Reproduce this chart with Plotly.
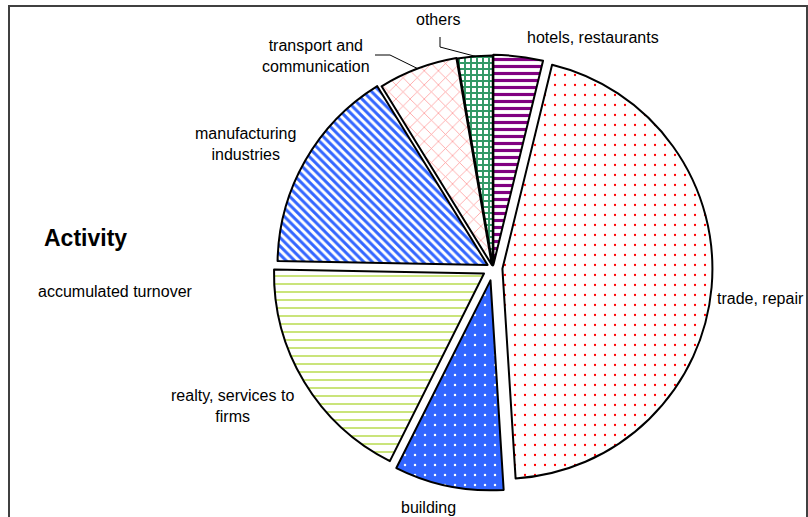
import math
import plotly.graph_objects as go

W, H = 808, 517

# ---- data ----
labels = ["hotels, restaurants", "trade, repair", "building",
          "realty, services to firms", "manufacturing industries",
          "transport and communication", "others"]
values = [3.8, 45.2, 8.4, 17.9, 15.9, 6.1, 2.7]

# ---- styles ----
pulls = [0.015, 0.045, 0.06, 0.05, 0.03, 0.015, 0.012]
pat_shape = ["-", ".", ".", "-", "\\", "x", "+"]
pat_fg = ["#800080", "#FF0000", "#FFFFFF", "#99CC00", "#3366FF", "#FF9999", "#339966"]
pat_bg = ["#FFFFFF", "#FFFFFF", "#3366FF", "#FFFFFF", "#FFFFFF", "#FFFFFF", "#FFFFFF"]
pat_size = [7, 10, 10, 8, 6, 10, 6]
pat_solid = [0.45, 0.04, 0.05, 0.13, 0.5, 0.15, 0.55]

cx, cy, R = 493, 268, 210
half = R * (1 + max(pulls))
dom_x = [(cx - half) / W, (cx + half) / W]
dom_y = [1 - (cy + half) / H, 1 - (cy - half) / H]


def px(x):
    return x / W


def py(y):
    return 1 - y / H


total = sum(values)
mid = []
cum = 0
for v in values:
    mid.append((cum + v / 2) / total * 360)
    cum += v


def edge_point(i):
    th = math.radians(mid[i])
    rr = R * (1 + pulls[i])
    return cx + rr * math.sin(th), cy - rr * math.cos(th)


fig = go.Figure(go.Pie(
    labels=labels, values=values, sort=False, direction="clockwise",
    rotation=0, pull=pulls, textinfo="none", hoverinfo="label+percent",
    domain=dict(x=dom_x, y=dom_y), showlegend=False,
    marker=dict(colors=pat_bg, line=dict(color="#000000", width=2),
                pattern=dict(shape=pat_shape, fgcolor=pat_fg, bgcolor=pat_bg,
                             size=pat_size, solidity=pat_solid, fillmode="overlay",
                             fgopacity=1)),
))

FONT = "Liberation Sans, Arial, sans-serif"
lab = dict(font=dict(family=FONT, size=16, color="#000000"), showarrow=False,
           xref="paper", yref="paper")

annots = [
    dict(text="hotels, restaurants", x=px(593), y=py(37), xanchor="center", yanchor="middle"),
    dict(text="others", x=px(438), y=py(20), xanchor="center", yanchor="middle"),
    dict(text="transport and<br>communication", x=px(316), y=py(56), xanchor="center", yanchor="middle"),
    dict(text="manufacturing<br>industries", x=px(245), y=py(144), xanchor="center", yanchor="middle"),
    dict(text="realty, services to<br>firms", x=px(233), y=py(406), xanchor="center", yanchor="middle"),
    dict(text="building", x=px(428), y=py(508), xanchor="center", yanchor="middle"),
    dict(text="trade, repair", x=px(715), y=py(298), xanchor="left", yanchor="middle"),
    dict(text="accumulated turnover", x=px(36), y=py(291), xanchor="left", yanchor="middle"),
]
for a in annots:
    d = dict(lab)
    d.update(a)
    fig.add_annotation(**d)

fig.add_annotation(text="<b>Activity</b>", x=px(42), y=py(238), xanchor="left", yanchor="middle",
                   showarrow=False, xref="paper", yref="paper",
                   font=dict(family=FONT, size=23, color="#000000"))

# leader lines
ox, oy = edge_point(6)
tx, ty = edge_point(5)
fig.add_shape(type="path", xref="paper", yref="paper",
              path=f"M {px(440)} {py(37)} L {px(440)} {py(47)} L {px(ox)} {py(oy)}",
              line=dict(color="#000000", width=1))
fig.add_shape(type="path", xref="paper", yref="paper",
              path=f"M {px(375)} {py(55)} L {px(390)} {py(55)} L {px(tx)} {py(ty)}",
              line=dict(color="#000000", width=1))

# chart border
fig.add_shape(type="rect", xref="paper", yref="paper",
              x0=px(9), x1=px(807), y0=-0.1, y1=py(6),
              line=dict(color="#404040", width=2), fillcolor="rgba(0,0,0,0)")

fig.update_layout(width=W, height=H, margin=dict(l=0, r=0, t=0, b=0),
                  paper_bgcolor="#FFFFFF", plot_bgcolor="#FFFFFF")

fig.write_html("out.html", config={"displayModeBar": False},
               post_script="document.body.style.margin='0';document.body.style.overflow='hidden';")
